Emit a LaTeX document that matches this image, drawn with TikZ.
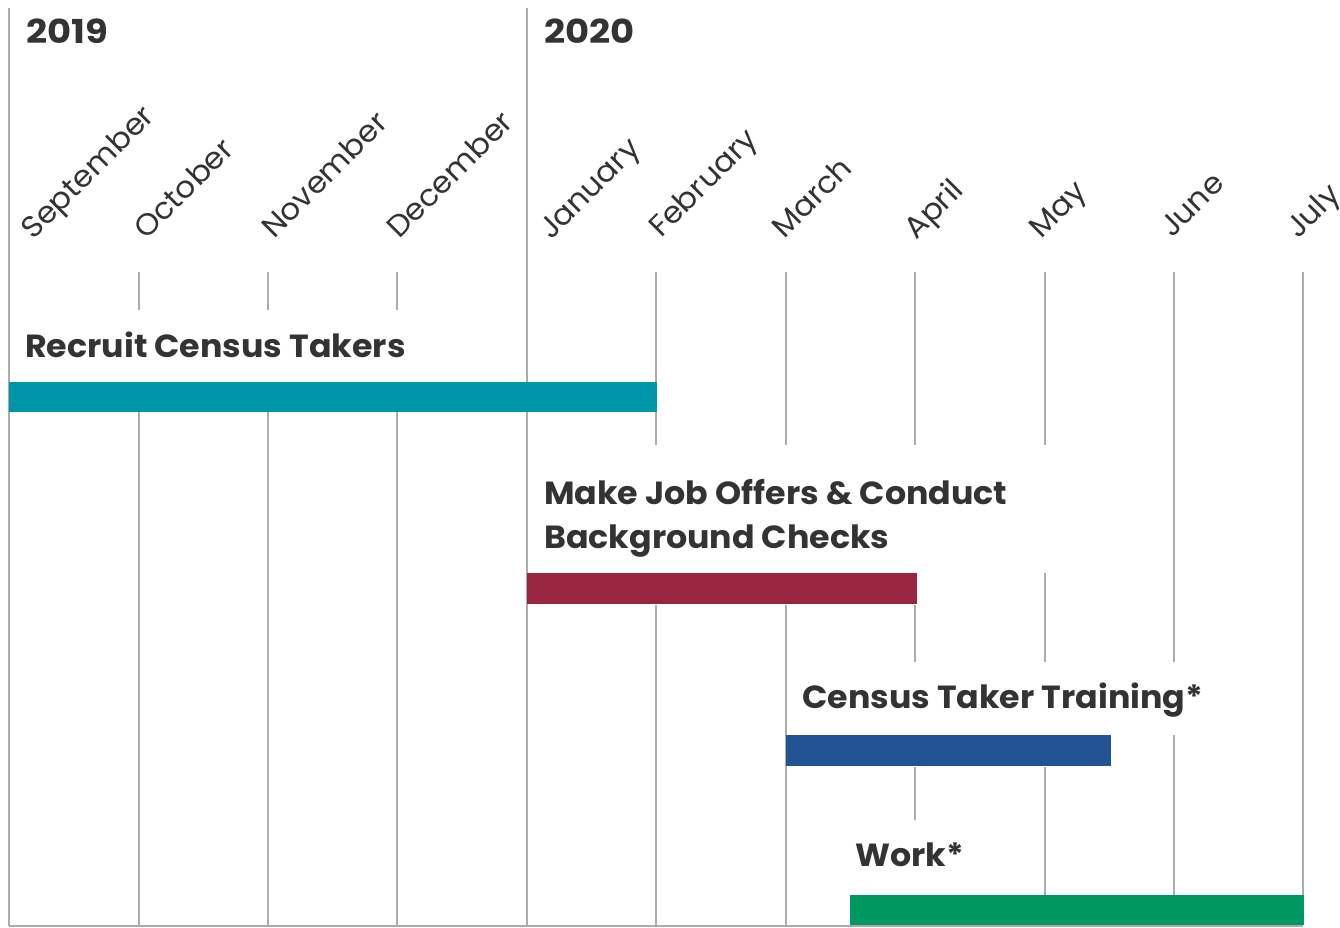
\documentclass[tikz,border=0pt]{standalone}
\usepackage{fontspec}
\setmainfont{Poppins}
\newfontfamily\monthfont{Poppins}[FakeStretch=1.04]
\newfontfamily\headfont{Poppins Bold}[FakeStretch=1.04]
\newfontfamily\yearfont{Poppins Bold}[FakeStretch=1.12]
\definecolor{ink}{HTML}{333333}
\definecolor{gridgray}{HTML}{ABABAB}
\definecolor{tealbar}{HTML}{0096A9}
\definecolor{maroonbar}{HTML}{9A2540}
\definecolor{bluebar}{HTML}{225493}
\definecolor{greenbar}{HTML}{009862}
\begin{document}
\begin{tikzpicture}[x=1pt,y=-1pt,
  gridline/.style={draw=gridgray, line width=1.6pt},
  yearlbl/.style={font=\yearfont\fontsize{33}{38}\selectfont, text=ink, anchor=base west, inner sep=0pt},
  monthlbl/.style={font=\monthfont\fontsize{30}{34}\selectfont, text=ink, anchor=base west, inner sep=0pt, rotate=45},
  tasklbl/.style={font=\headfont\fontsize{32}{38}\selectfont, text=ink, anchor=base west, inner sep=0pt}]
\useasboundingbox (0,0) rectangle (1340,927);
% grid lines
\draw[gridline] (9,8) -- (9,926);
\draw[gridline] (527,8) -- (527,926);
\foreach \x in {139,268,397} { \draw[gridline] (\x,272) -- (\x,310) (\x,382) -- (\x,926); }
\foreach \x in {656,786} { \draw[gridline] (\x,272) -- (\x,445) (\x,605) -- (\x,926); }
\draw[gridline] (915,272) -- (915,445) (915,605) -- (915,662) (915,767) -- (915,820);
\draw[gridline] (1045,272) -- (1045,445) (1045,573) -- (1045,662) (1045,767) -- (1045,895);
\draw[gridline] (1174,272) -- (1174,662) (1174,735) -- (1174,895);
\draw[gridline] (1303,272) -- (1303,895);
\draw[gridline] (9,926) -- (1303,926);
% bars
\fill[tealbar] (9,382) rectangle (657,412);
\fill[maroonbar] (527,573) rectangle (917,604);
\fill[bluebar] (786,735) rectangle (1111,766);
\fill[greenbar] (850,895) rectangle (1304,925);
% years
\node[yearlbl] (y2019) at (26,43) {2019};
\node[yearlbl] (y2020) at (544,43) {2020};
% months
\node[monthlbl] (sep) at (33,241) {September};
\node[monthlbl] (oct) at (146,241) {October};
\node[monthlbl] (nov) at (274,240) {November};
\node[monthlbl] (dec) at (399,240) {December};
\node[monthlbl] (jan) at (551,241) {January};
\node[monthlbl] (feb) at (661,239) {February};
\node[monthlbl] (mar) at (784,240) {March};
\node[monthlbl] (apr) at (916,241) {April};
\node[monthlbl] (may) at (1041,240) {May};
\node[monthlbl] (jun) at (1172,239) {June};
\node[monthlbl] (jul) at (1298,240) {July};
% tasks
\node[tasklbl] (recruit) at (25,357) {Recruit Census Takers};
\node[tasklbl] (jobA) at (544,504) {Make Job Offers \& Conduct};
\node[tasklbl] (jobB) at (544,548) {Background Checks};
\node[tasklbl] (training) at (802,708) {Census Taker Training*};
\node[tasklbl] (work) at (855,866) {Work*};
\end{tikzpicture}
\end{document}
